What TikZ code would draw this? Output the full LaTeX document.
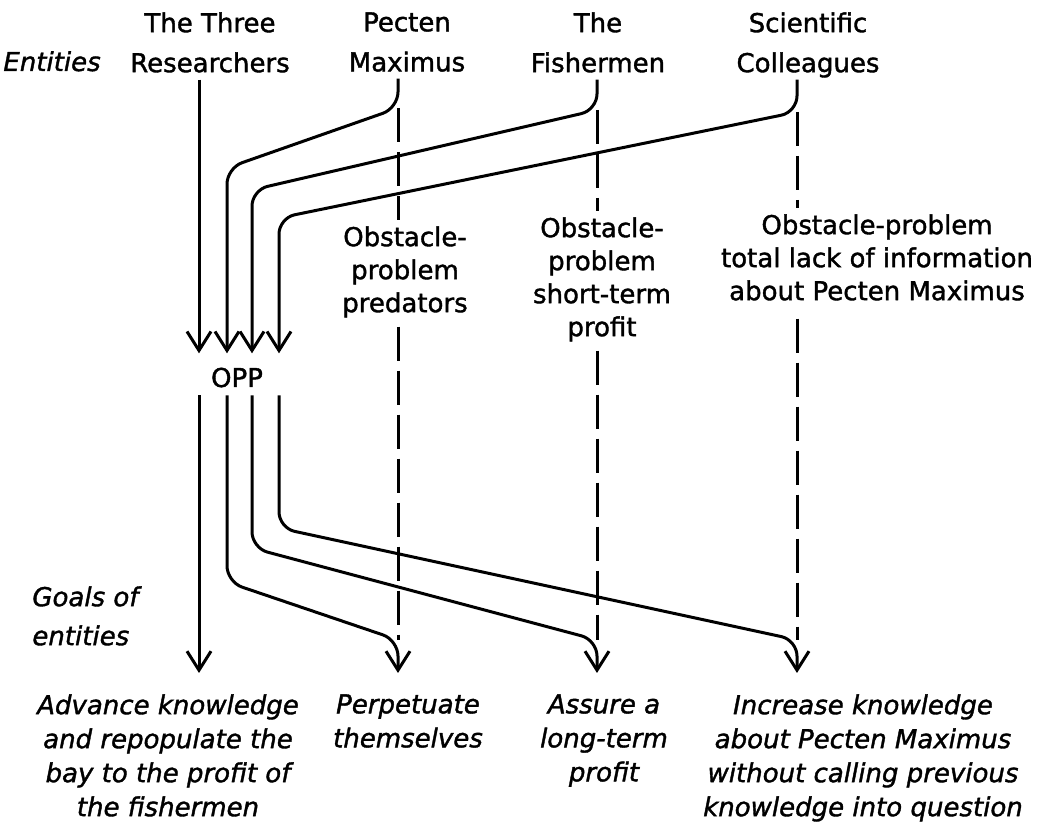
\documentclass[tikz,border=0pt]{standalone}
\usepackage{fontspec}
\setmainfont{DejaVu Sans}[FakeBold=1.4]
\usetikzlibrary{arrows.meta}
\tikzset{
  txt/.style={align=center, inner sep=0pt, text depth=0pt, font=\fontsize{13}{16.5}\selectfont},
  head/.style={txt, font=\fontsize{13}{20}\selectfont},
  goal/.style={txt, font=\fontsize{13}{17}\selectfont\itshape},
  side/.style={inner sep=0pt, align=left, font=\fontsize{13}{19.5}\selectfont\itshape},
  lane/.style={line width=1.5pt, rounded corners=8pt},
  down/.style={-{Straight Barb[length=9.5pt,width=12pt]}},
  obst/.style={line width=1.5pt, dash pattern=on 17pt off 5pt},
}

\begin{document}
\begin{tikzpicture}[x=0.5pt, y=-0.5pt]
         \useasboundingbox (0,0) rectangle (1057,822);
         \node [head, anchor=north] (TR) at (210,12) {The Three\\Researchers};
         \node [head, anchor=north] (PM) at (407,12) {Pecten\\Maximus};
         \node [head, anchor=north] (FM) at (598,12) {The\\Fishermen};
         \node [head, anchor=north] (SC) at (808,12) {Scientific\\Colleagues};
         \node [side, anchor=base west] (EN) at (3,71) {Entities};
         \node [txt, anchor=base] (OPP) at (237,387) {OPP};
         \node [txt, anchor=north] (OPM) at (405,226) {Obstacle-\\problem\\predators};
         \node [txt, anchor=north] (OFM) at (602,217) {Obstacle-\\problem\\short-term\\profit};
         \node [txt, anchor=north] (OSC) at (877,214) {Obstacle-problem\\total lack of information\\about Pecten Maximus};
         \node [side, anchor=north west] (GE) at (32,586) {Goals of\\entities};
         \node [goal, anchor=north] (GTR) at (168,694) {Advance knowledge\\and repopulate the\\bay to the profit of\\the fishermen};
         \node [goal, anchor=north] (GPM) at (408,694) {Perpetuate\\themselves};
         \node [goal, anchor=north] (GFM) at (604,694) {Assure a\\long-term\\profit};
         \node [goal, anchor=north] (GSC) at (863,694) {Increase knowledge\\about Pecten Maximus\\without calling previous\\knowledge into question};
         \coordinate (L1) at (199,376);
         \coordinate (L2) at (227,376);
         \coordinate (L3) at (252,376);
         \coordinate (L4) at (279,376);
         \coordinate (PB) at (398,108);
         \coordinate (FB) at (597,110);
         \coordinate (CB) at (797,112);
         \coordinate (PJ) at (398,640);
         \coordinate (FJ) at (597,640);
         \coordinate (CJ) at (797,640);
         \draw [lane, down, shorten <=3.5pt, shorten >=7pt] (TR.south -| L1) -- (OPP.north -| L1);
         \draw [lane, down, shorten <=3.5pt, shorten >=7pt] (PM.south -| PB) -- (PB) -- (227,168) -- (OPP.north -| L2);
         \draw [lane, down, shorten <=3.5pt, shorten >=7pt] (FM.south -| FB) -- (FB) -- (252,190) -- (OPP.north -| L3);
         \draw [lane, down, shorten <=3.5pt, shorten >=7pt] (SC.south -| CB) -- (CB) -- (279,218) -- (OPP.north -| L4);
         \draw [obst, shorten >=3pt] (PB) -- (OPM.north -| PB);
         \draw [obst, shorten >=3pt] (FB) -- (OFM.north -| FB);
         \draw [obst, shorten >=3pt] (CB) -- (OSC.north -| CB);
         \draw [obst, shorten <=7pt] (OPM.south -| PB) -- (PJ);
         \draw [obst, shorten <=7pt] (OFM.south -| FB) -- (FJ);
         \draw [obst, shorten <=9pt] (OSC.south -| CB) -- (CJ);
         \draw [lane, down, shorten <=4pt, shorten >=10.5pt] (OPP.south -| L1) -- (GTR.north -| L1);
         \draw [lane, down, shorten <=4pt, shorten >=10.5pt] (OPP.south -| L2) -- (227,582) -- (PJ) -- (GPM.north -| PJ);
         \draw [lane, down, shorten <=4pt, shorten >=10.5pt] (OPP.south -| L3) -- (252,548) -- (FJ) -- (GFM.north -| FJ);
         \draw [lane, down, shorten <=4pt, shorten >=10.5pt] (OPP.south -| L4) -- (279,528) -- (CJ) -- (GSC.north -| CJ);
 \end{tikzpicture}
\end{document}
